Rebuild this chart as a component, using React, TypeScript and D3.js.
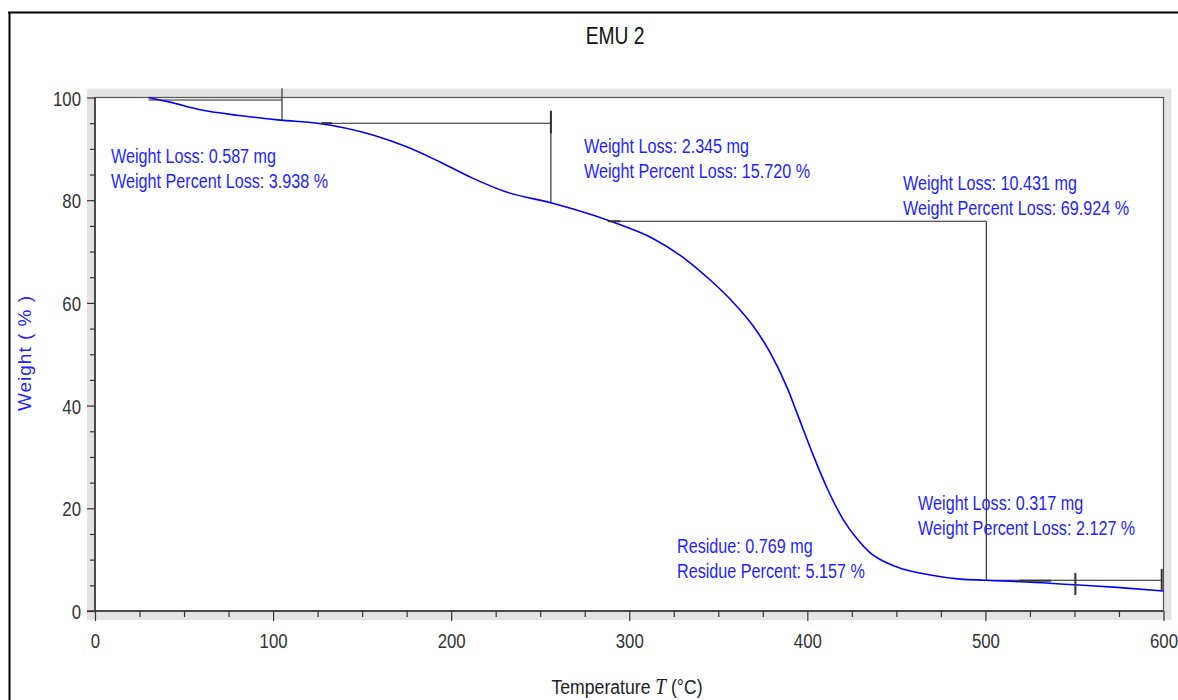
import * as d3 from 'd3';
import { useEffect, useRef } from 'react';

// TGA curve
const temperatures = [30, 42, 59, 81, 104, 125, 156, 175, 194, 212, 231, 256, 288, 295, 313, 332, 345, 357, 370, 379, 389, 395, 403, 411, 420, 428, 435, 450, 469, 486, 500, 536, 550, 574, 600];
const weights = [100, 99.1, 97.6, 96.5, 95.6, 95.0, 92.7, 90.4, 87.4, 84.3, 81.6, 79.5, 76.1, 75.2, 72.6, 68.4, 64.6, 60.6, 55.3, 50.4, 43.2, 37.8, 30.6, 24.0, 17.9, 14.0, 11.4, 8.6, 7.0, 6.2, 6.0, 5.4, 5.1, 4.6, 3.9];

// step construction lines [t1, w1, t2, w2]
const stepLines = [
    [30, 99.5, 105, 99.5], [105, 101.8, 105, 95.6],
    [127, 95.0, 256, 95.0], [256, 97.4, 256, 79.5],
    [288, 75.9, 500.5, 75.9], [500.5, 75.9, 500.5, 6.0],
    [500.5, 6.0, 599, 6.0]
];
// short heavier markers
const markerLines = [
    [256, 97.4, 256, 93.0], [127, 95.0, 133, 95.0], [288, 75.9, 295, 75.9],
    [519, 5.9, 537, 5.9], [550.5, 7.4, 550.5, 3.1], [599, 8.2, 599, 4.1]
];

const annotationT = [9, 274.6, 453.7, 462.2, 326.8];
const annotationW = [87.2, 89.1, 82.0, 19.7, 11.3];
const annotationLines = [
    ['Weight Loss: 0.587 mg', 'Weight Percent Loss: 3.938 %'],
    ['Weight Loss: 2.345 mg', 'Weight Percent Loss: 15.720 %'],
    ['Weight Loss: 10.431 mg', 'Weight Percent Loss: 69.924 %'],
    ['Weight Loss: 0.317 mg', 'Weight Percent Loss: 2.127 %'],
    ['Residue: 0.769 mg', 'Residue Percent: 5.157 %']
];

const xTicks = [0, 100, 200, 300, 400, 500, 600];
const yTicks = [0, 20, 40, 60, 80, 100];

const SANS = "'Liberation Sans', Arial, sans-serif";
const BLUE = '#1f1fff';

// condensed text: Arial Narrow is not installed, so squeeze Liberation Sans
function narrowText(parent, px, py, str, size, fill, anchor = 'start', sx = 0.78) {
    const g = parent.append('g').attr('transform', `translate(${px},${py}) scale(${sx},1)`);
    return g.append('text')
        .attr('text-anchor', anchor)
        .attr('font-family', SANS).attr('font-size', size).attr('fill', fill)
        .text(str);
}

function TgaChart() {
    const ref = useRef(null);

    useEffect(() => {
        const width = 1178, height = 700;
        const left = 95, right = 1163.5, top = 97.5, bottom = 611;

        const x = d3.scaleLinear().domain([0, 600]).range([left, right]);
        const y = d3.scaleLinear().domain([0, 100]).range([bottom, top]);

        const svg = d3.select(ref.current)
            .html('')
            .append('svg')
            .attr('width', width)
            .attr('height', height)
            .style('display', 'block');

        svg.append('rect').attr('width', width).attr('height', height).attr('fill', '#fff');

        // outer frame
        svg.append('line').attr('x1', 8).attr('x2', width).attr('y1', 12.5).attr('y2', 12.5)
            .attr('stroke', '#000').attr('stroke-width', 2);
        svg.append('line').attr('x1', 9.5).attr('x2', 9.5).attr('y1', 12).attr('y2', height)
            .attr('stroke', '#000').attr('stroke-width', 2);

        // bevel around the plot
        svg.append('rect').attr('x', left - 8).attr('y', top - 9)
            .attr('width', right - left + 16).attr('height', bottom - top + 18)
            .attr('fill', '#e3e3e3');
        svg.append('rect').attr('x', left).attr('y', top)
            .attr('width', right - left).attr('height', bottom - top)
            .attr('fill', '#fff').attr('stroke', '#555').attr('stroke-width', 1.2);

        // title
        narrowText(svg, 615, 44, 'EMU 2', 24, '#111', 'middle', 0.8);

        // y axis
        const yAxis = d3.axisLeft(y)
            .tickValues(d3.range(0, 101, 5))
            .tickSize(0)
            .tickFormat(() => '');
        const gy = svg.append('g').attr('transform', `translate(${left},0)`).call(yAxis);
        gy.select('.domain').remove();
        gy.selectAll('.tick line').remove();
        gy.selectAll('.tick text').remove();
        gy.selectAll('.tick').append('line')
            .attr('x1', d => (yTicks.includes(d) ? -8 : -5)).attr('x2', 0)
            .attr('stroke', '#333').attr('stroke-width', 1.2);
        gy.selectAll('.tick').filter(d => yTicks.includes(d)).each(function (d) {
            narrowText(d3.select(this), -14, 7.5, String(d), 21, '#333', 'end', 0.8);
        });
        svg.append('line').attr('x1', left).attr('x2', left).attr('y1', top).attr('y2', bottom)
            .attr('stroke', '#333').attr('stroke-width', 1.5);

        // x axis
        const xAxis = d3.axisBottom(x)
            .tickValues(d3.range(0, 601, 25))
            .tickSize(0)
            .tickFormat(() => '');
        const gx = svg.append('g').attr('transform', `translate(0,${bottom})`).call(xAxis);
        gx.select('.domain').remove();
        gx.selectAll('.tick line').remove();
        gx.selectAll('.tick text').remove();
        gx.selectAll('.tick').append('line')
            .attr('y1', 0).attr('y2', d => (xTicks.includes(d) ? 10 : 6))
            .attr('stroke', '#333').attr('stroke-width', 1.2);
        gx.selectAll('.tick').filter(d => xTicks.includes(d)).each(function (d) {
            narrowText(d3.select(this), 0, 37, String(d), 21, '#333', 'middle', 0.8);
        });
        svg.append('line').attr('x1', left - 8).attr('x2', right).attr('y1', bottom).attr('y2', bottom)
            .attr('stroke', '#333').attr('stroke-width', 1.5);

        // axis titles
        const xl = narrowText(svg, 627, 694, '', 21, '#222', 'middle', 0.84);
        xl.append('tspan').text('Temperature ');
        xl.append('tspan').attr('font-family', "'Liberation Serif', serif").attr('font-style', 'italic')
            .attr('font-size', 23).text('T');
        xl.append('tspan').text(' (°C)');

        svg.append('text')
            .attr('transform', `translate(31,${353}) rotate(-90)`)
            .attr('text-anchor', 'middle')
            .attr('font-family', SANS).attr('font-size', 19)
            .attr('letter-spacing', 1).attr('fill', BLUE)
            .text('Weight ( % )');

        // construction lines
        svg.append('g').selectAll('line').data(stepLines).enter().append('line')
            .attr('x1', d => x(d[0])).attr('y1', d => y(d[1]))
            .attr('x2', d => x(d[2])).attr('y2', d => y(d[3]))
            .attr('stroke', '#222').attr('stroke-width', 1.1);

        // curve
        const data = temperatures.map((t, i) => ({ t, w: weights[i] }));
        const line = d3.line().x(d => x(d.t)).y(d => y(d.w)).curve(d3.curveMonotoneX);
        svg.append('path').datum(data).attr('d', line)
            .attr('fill', 'none').attr('stroke', '#0000ff').attr('stroke-width', 1.6);

        svg.append('g').selectAll('line').data(markerLines).enter().append('line')
            .attr('x1', d => x(d[0])).attr('y1', d => y(d[1]))
            .attr('x2', d => x(d[2])).attr('y2', d => y(d[3]))
            .attr('stroke', '#333').attr('stroke-width', 2);

        // annotations
        annotationLines.forEach((lines, i) => {
            lines.forEach((s, j) => {
                narrowText(svg, x(annotationT[i]), y(annotationW[i]) + j * 25, s, 21, BLUE, 'start', 0.77);
            });
        });
    }, []);

    return <div ref={ref}></div>;
}

export default function App() {
    return (
        <div style={{ position: 'absolute', left: 0, top: 0 }}>
            <TgaChart />
        </div>
    );
}
